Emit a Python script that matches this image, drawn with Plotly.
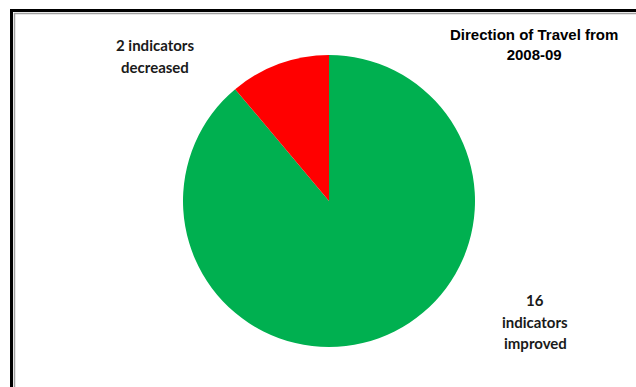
import plotly.graph_objects as go

# Direction of travel counts (clockwise from 12 o'clock)
categories = ["improved", "decreased"]
counts = [16, 2]
slice_colors = ["#00B050", "#FF0000"]
improved_label = ["16", "indicators", "improved"]
decreased_label = ["2 indicators", "decreased"]
title_text = "Direction of Travel from<br>2008-09"

W, H = 636, 387
cx, cy, r = 329, 201, 146

fig = go.Figure(
    go.Pie(
        labels=categories,
        values=counts,
        marker=dict(colors=slice_colors, line=dict(width=0)),
        sort=False,
        direction="clockwise",
        rotation=0,
        textinfo="none",
        hoverinfo="label+value",
        showlegend=False,
        domain=dict(
            x=[(cx - r) / W, (cx + r) / W],
            y=[(H - cy - r) / H, (H - cy + r) / H],
        ),
    )
)


def text_lines(lines, x, first_baseline, spacing, font):
    """Stack lines of centred text, one annotation per line."""
    for i, line in enumerate(lines):
        baseline = first_baseline + i * spacing
        centre = baseline - 0.35 * font["size"]
        fig.add_annotation(
            text=line,
            x=x / W, y=1 - centre / H, xref="paper", yref="paper",
            showarrow=False, font=font, xanchor="center", yanchor="middle",
        )


label_font = dict(family="Lato, sans-serif", size=15, color="#1a1a1a", weight="bold")
text_lines(decreased_label, 155, 50.7, 22, label_font)
text_lines(improved_label, 535, 305.7, 21.3, label_font)

# Chart title, top right
fig.add_annotation(
    text="<b>" + title_text + "</b>",
    x=534 / W, y=1 - 44 / H, xref="paper", yref="paper",
    showarrow=False, xanchor="center", yanchor="middle",
    font=dict(family="Liberation Sans, Arial, sans-serif", size=15, color="#000000"),
)


# Frame: black edge with a grey inner line along the top and left
def px_line(x0, y0, x1, y1, color, width):
    fig.add_shape(
        type="line", xref="paper", yref="paper",
        x0=x0 / W, y0=1 - y0 / H, x1=x1 / W, y1=1 - y1 / H,
        line=dict(color=color, width=width),
    )


px_line(14, 13.5, W, 13.5, "#A0A0A0", 1.5)
px_line(14.5, 13, 14.5, H, "#A0A0A0", 1.5)
px_line(10, 10.5, W, 10.5, "#000000", 3)
px_line(11.5, 9, 11.5, H, "#000000", 3)

fig.update_layout(
    width=W, height=H,
    margin=dict(l=0, r=0, t=0, b=0),
    paper_bgcolor="white", plot_bgcolor="white",
)

fig.write_html("out.html")
